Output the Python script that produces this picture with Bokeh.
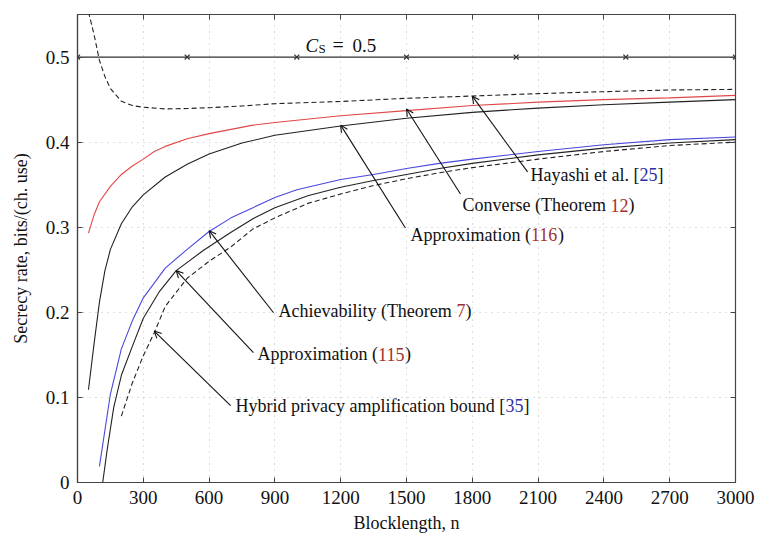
from bokeh.plotting import figure
from bokeh.models import (Range1d, FixedTicker, LinearAxis, Arrow, OpenHead,
                          ColumnDataSource)
from bokeh.core.properties import value
from bokeh.embed import file_html
from bokeh.resources import INLINE

# ---------------- data ----------------
cs_n = [0, 500, 1000, 1500, 2000, 2500, 3000]
cs_r = [0.5, 0.5, 0.5, 0.5, 0.5, 0.5, 0.5]

hay_n = [50, 75, 100, 125, 150, 200, 250, 300, 400, 500, 600, 750, 900, 1200, 1500, 1800, 2100, 2400, 2700, 3000]
hay_r = [0.553, 0.527, 0.496, 0.477, 0.463, 0.448, 0.443, 0.441, 0.439, 0.4395, 0.4405, 0.4425, 0.4452, 0.4478, 0.4515, 0.4542, 0.457, 0.4593, 0.4613, 0.462]

conv_n = [50, 75, 100, 150, 200, 250, 300, 350, 400, 500, 600, 700, 800, 900, 1200, 1500, 1800, 2100, 2400, 2700, 3000]
conv_r = [0.293, 0.314, 0.330, 0.348, 0.362, 0.372, 0.380, 0.389, 0.395, 0.404, 0.410, 0.415, 0.420, 0.423, 0.431, 0.437, 0.443, 0.447, 0.450, 0.452, 0.455]

a116_n = [50, 75, 100, 125, 150, 200, 250, 300, 400, 500, 600, 750, 900, 1200, 1500, 1800, 2100, 2400, 2700, 3000]
a116_r = [0.109, 0.162, 0.212, 0.249, 0.274, 0.304, 0.324, 0.338, 0.359, 0.374, 0.386, 0.399, 0.408, 0.419, 0.428, 0.435, 0.440, 0.444, 0.447, 0.450]

ach_n = [100, 150, 200, 250, 300, 400, 500, 600, 700, 800, 900, 1000, 1200, 1350, 1500, 1650, 1800, 2100, 2400, 2700, 3000]
ach_r = [0.019, 0.104, 0.157, 0.190, 0.217, 0.252, 0.274, 0.295, 0.311, 0.323, 0.335, 0.344, 0.356, 0.362, 0.369, 0.375, 0.380, 0.389, 0.397, 0.403, 0.406]

a115_n = [115, 135, 165, 200, 250, 300, 375, 450, 575, 700, 800, 900, 1050, 1200, 1350, 1500, 1650, 1800, 2100, 2400, 2700, 3000]
a115_r = [0.0, 0.038, 0.088, 0.126, 0.160, 0.193, 0.225, 0.249, 0.273, 0.294, 0.310, 0.323, 0.337, 0.347, 0.355, 0.362, 0.369, 0.375, 0.385, 0.393, 0.399, 0.403]

hyb_n = [200, 250, 300, 350, 400, 500, 600, 700, 800, 900, 1050, 1200, 1350, 1500, 1650, 1800, 2100, 2400, 2700, 3000]
hyb_r = [0.078, 0.117, 0.149, 0.176, 0.207, 0.240, 0.260, 0.277, 0.298, 0.311, 0.328, 0.339, 0.349, 0.357, 0.364, 0.370, 0.380, 0.389, 0.396, 0.400]

x_ticks = [0, 300, 600, 900, 1200, 1500, 1800, 2100, 2400, 2700, 3000]
y_ticks = [0, 0.1, 0.2, 0.3, 0.4, 0.5]
y_tick_labels = ["0", "0.1", "0.2", "0.3", "0.4", "0.5"]

# annotations: text segments (text, colour key)
ann_text = [
    [("Hayashi et al. [", "k"), ("25", "b"), ("]", "k")],
    [("Converse (Theorem ", "k"), ("12", "r"), (")", "k")],
    [("Approximation (", "k"), ("116", "r"), (")", "k")],
    [("Achievability (Theorem ", "k"), ("7", "r"), (")", "k")],
    [("Approximation (", "k"), ("115", "r"), (")", "k")],
    [("Hybrid privacy amplification bound [", "k"), ("35", "b"), ("]", "k")],
]
ann_text_n = [2065, 1755, 1518, 916, 821, 720]
ann_text_r = [0.3615, 0.326, 0.291, 0.202, 0.151, 0.0904]
ann_tail_n = [2052, 1746, 1495, 894, 802, 698]
ann_tail_r = [0.365, 0.339, 0.299, 0.1995, 0.1526, 0.0904]
ann_tip_n = [1800, 1500, 1200, 600, 450, 350]
ann_tip_r = [0.454, 0.439, 0.420, 0.296, 0.249, 0.178]

# ---------------- style helpers ----------------
FONT = "Liberation Serif"
COL = {"k": "#111111", "r": "#a3302c", "b": "#2e2ea6"}
TW = {' ': 250, '(': 333, ')': 333, '[': 333, ']': 333, '.': 250, ',': 250, '/': 278,
      'A': 722, 'B': 667, 'C': 667, 'H': 722, 'T': 611, 'S': 556,
      'a': 444, 'b': 500, 'c': 444, 'd': 500, 'e': 444, 'f': 333, 'g': 500, 'h': 500,
      'i': 278, 'j': 278, 'k': 500, 'l': 278, 'm': 778, 'n': 500, 'o': 500, 'p': 500,
      'r': 333, 's': 389, 't': 278, 'u': 500, 'v': 500, 'x': 500, 'y': 500, 'z': 444}


def text_width(s, size):
    return sum(TW.get(c, 500) for c in s) * size / 1000.0


p = figure(width=756, height=538, output_backend="svg", toolbar_location=None,
           x_range=Range1d(0, 3000), y_range=Range1d(0, 0.55),
           min_border_left=77, min_border_right=21, min_border_top=14, min_border_bottom=56)
p.background_fill_color = "white"
p.border_fill_color = "white"
p.outline_line_color = "#444444"
p.outline_line_width = 1.2

for ax in (p.xaxis[0], p.yaxis[0]):
    ax.axis_line_color = "#444444"
    ax.axis_line_width = 1.2
    ax.major_tick_in = 5
    ax.major_tick_out = 0
    ax.major_tick_line_color = "#444444"
    ax.minor_tick_line_color = None
    ax.major_label_text_font = FONT
    ax.major_label_text_font_size = "19px"
    ax.major_label_text_color = "#111111"
    ax.major_label_standoff = 8
    ax.axis_label_text_font = FONT
    ax.axis_label_text_font_size = "18px"
    ax.axis_label_text_font_style = "normal"
    ax.axis_label_text_color = "#111111"

p.xaxis.ticker = FixedTicker(ticks=x_ticks)
p.yaxis.ticker = FixedTicker(ticks=y_ticks)
p.yaxis.major_label_overrides = {t: l for t, l in zip(y_ticks, y_tick_labels)}
p.yaxis.axis_label = "Secrecy rate, bits/(ch. use)"
p.yaxis.axis_label_standoff = 12
p.xaxis.axis_label = "Blocklength, n"
p.xaxis.axis_label_standoff = 6

for g, tk in ((p.xgrid, x_ticks), (p.ygrid, y_ticks)):
    g.ticker = FixedTicker(ticks=tk)
    g.grid_line_color = "#bdbdbd"
    g.grid_line_dash = "1 5"
    g.grid_line_width = 1

# mirrored ticks on top / right (no labels)
for loc, tk in (("above", x_ticks), ("right", y_ticks)):
    ax = LinearAxis(ticker=FixedTicker(ticks=tk))
    ax.axis_line_color = None
    ax.major_tick_in = 5
    ax.major_tick_out = 0
    ax.major_tick_line_color = "#444444"
    ax.minor_tick_line_color = None
    ax.major_label_text_color = None
    ax.major_label_text_font_size = "1px"
    ax.major_label_standoff = 0
    p.add_layout(ax, loc)

# ---------------- curves ----------------
p.line(cs_n, cs_r, line_color="#333333", line_width=1.2)
p.scatter(cs_n, cs_r, marker="x", size=7, line_color="#333333", line_width=1.2)
p.line(hay_n, hay_r, line_color="#222222", line_width=1.1, line_dash="5 3")
p.line(conv_n, conv_r, line_color="#e04848", line_width=1.1)
p.line(a116_n, a116_r, line_color="#222222", line_width=1.1)
p.line(ach_n, ach_r, line_color="#4848dc", line_width=1.1)
p.line(a115_n, a115_r, line_color="#222222", line_width=1.1)
p.line(hyb_n, hyb_r, line_color="#222222", line_width=1.1, line_dash="5 3")

# ---------------- arrows + annotation text ----------------
for i in range(len(ann_text)):
    p.add_layout(Arrow(end=OpenHead(size=7, line_width=1.1, line_color="#111111"),
                       x_start=ann_tail_n[i], y_start=ann_tail_r[i],
                       x_end=ann_tip_n[i], y_end=ann_tip_r[i],
                       line_width=1.1, line_color="#111111"))

tx, ty, tt, to, tc = [], [], [], [], []
for i, segs in enumerate(ann_text):
    off = 0.0
    for s, c in segs:
        tx.append(ann_text_n[i]); ty.append(ann_text_r[i]); tt.append(s)
        to.append(off); tc.append(COL[c])
        off += text_width(s, 18)
src = ColumnDataSource(dict(x=tx, y=ty, text=tt, xo=to, color=tc))
p.text(x="x", y="y", text="text", x_offset="xo", text_color="color", source=src,
       text_font=value(FONT), text_font_size="18px", text_baseline="middle", text_align="left")

# C_S = 0.5 label
cs_lab_n, cs_lab_r = 1040, 0.514
p.text(x=[cs_lab_n], y=[cs_lab_r], text=["C"], text_font=value(FONT), text_font_size="19px",
       text_font_style="italic", text_baseline="alphabetic", text_color="#111111")
p.text(x=[cs_lab_n], y=[cs_lab_r], text=["S"], x_offset=13, y_offset=3, text_font=value(FONT),
       text_font_size="13px", text_baseline="alphabetic", text_color="#111111")
p.text(x=[cs_lab_n], y=[cs_lab_r], text=["="], x_offset=27, text_font=value(FONT),
       text_font_size="20px", text_baseline="alphabetic", text_color="#111111")
p.text(x=[cs_lab_n], y=[cs_lab_r], text=["0.5"], x_offset=47, text_font=value(FONT),
       text_font_size="19px", text_baseline="alphabetic", text_color="#111111")

open("out.html", "w").write(file_html(p, INLINE))
